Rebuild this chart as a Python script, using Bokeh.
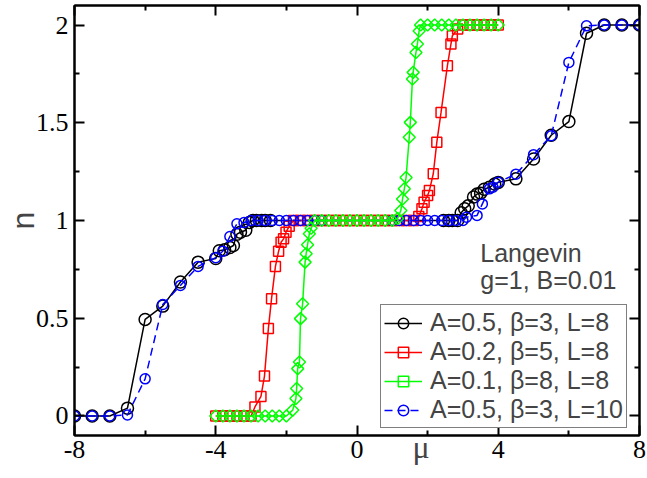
import math
from bokeh.plotting import figure
from bokeh.models import (Range1d, FixedTicker, LinearAxis, CustomJSTickFormatter,
                          Label, Legend, LegendItem)
from bokeh.embed import file_html
from bokeh.resources import INLINE

# ---------------- data ----------------
x_ticks = [-8, -4, 0, 4, 8]
x_minor = [-6, -2, 2, 6]
y_ticks = [0, 0.5, 1, 1.5, 2]
y_minor = [0.25, 0.75, 1.25, 1.75]

# A=0.5, beta=3, L=8 (black)
mu_a = [-8, -7.5, -7, -6.5, -6, -5.5, -5, -4.5, -4,
        -3.9, -3.75, -3.6, -3.5, -3.4, -3.3, -3.15, -3.05,
        -2.95, -2.85, -2.7, -2.6, -2.45,
        2.45, 2.6, 2.7, 2.85, 2.95,
        3.05, 3.15, 3.3, 3.4, 3.5, 3.6, 3.75, 3.9, 4,
        4.5, 5, 5.5, 6, 6.5, 7, 7.5, 8]
n_a = [0, 0, 0, 0.04, 0.494, 0.562, 0.685, 0.787, 0.806,
       0.845, 0.85, 0.862, 0.872, 0.93, 0.94, 0.95, 0.99,
       1.0, 1.0, 1.0, 1.0, 1.0,
       1.0, 1.0, 1.0, 1.0, 1.04,
       1.06, 1.075, 1.12, 1.135, 1.14, 1.16, 1.17, 1.187, 1.195,
       1.213, 1.315, 1.436, 1.506, 1.958, 2.0, 2.0, 2.0]

# A=0.2, beta=5, L=8 (red)
mu_b = [-4, -3.8, -3.6, -3.4, -3.2, -3.0,
        -2.89, -2.72, -2.62, -2.51, -2.42, -2.31, -2.22, -2.15, -2.08, -2.01, -1.92,
        -1.8, -1.6, -1.4, -1.2, -1.0, -0.8, -0.6, -0.4, -0.2, 0.0,
        0.2, 0.4, 0.6, 0.8, 1.0, 1.2, 1.4, 1.6,
        1.75, 1.84, 1.9, 2.0, 2.05, 2.16, 2.26, 2.38, 2.56, 2.66, 2.7, 2.85,
        3.0, 3.2, 3.4, 3.6, 3.8, 4.0]
n_b = [0, 0, 0, 0, 0, 0,
       0.046, 0.1, 0.204, 0.447, 0.6, 0.765, 0.843, 0.889, 0.906, 0.94, 0.97,
       1, 1, 1, 1, 1, 1, 1, 1, 1, 1,
       1, 1, 1, 1, 1, 1, 1, 1,
       1.02, 1.06, 1.094, 1.128, 1.153, 1.239, 1.4, 1.553, 1.792, 1.903, 1.945, 1.98,
       2, 2, 2, 2, 2, 2]

# A=0.1, beta=8, L=8 (green)
mu_c = [-4.0, -3.8, -3.6, -3.4, -3.2, -3.0, -2.8, -2.6, -2.4, -2.2, -2.0,
        -1.82, -1.73, -1.71, -1.68, -1.63, -1.6, -1.54, -1.47, -1.44, -1.4, -1.35, -1.3,
        -1.2, -1.0, -0.8, -0.6, -0.4, -0.2, 0.0, 0.2, 0.4, 0.6, 0.8, 1.0,
        1.15, 1.24, 1.29, 1.34, 1.39, 1.48, 1.51, 1.57, 1.59, 1.67, 1.71, 1.76,
        1.8, 2.0, 2.2, 2.4, 2.6, 2.8, 3.0, 3.2, 3.4, 3.6, 3.8, 4.0]
n_c = [0, 0, 0, 0, 0, 0, 0, 0, 0, 0, 0,
       0.03, 0.089, 0.14, 0.242, 0.276, 0.498, 0.574, 0.787, 0.83, 0.876, 0.932, 0.96,
       1, 1, 1, 1, 1, 1, 1, 1, 1, 1, 1, 1,
       1.01, 1.051, 1.11, 1.162, 1.22, 1.426, 1.502, 1.724, 1.758, 1.86, 1.903, 1.97,
       2, 2, 2, 2, 2, 2, 2, 2, 2, 2, 2, 2]

# A=0.5, beta=3, L=10 (blue)
mu_d = [-8, -7.5, -7, -6.5, -6, -5.5, -5, -4.5, -4,
        -3.8, -3.6, -3.4, -3.2,
        -3.0, -2.8, -2.6, -2.4, -2.2, -2.0, -1.8, -1.6, -1.4, -1.2, -1.0,
        1.0, 1.2, 1.4, 1.6, 1.8, 2.0, 2.2, 2.4, 2.6, 2.8, 3.0,
        3.1, 3.4, 3.55, 3.75, 3.85, 4.0,
        4.5, 5, 5.5, 6, 6.5, 7, 7.5, 8]
n_d = [0, 0, 0, 0.005, 0.19, 0.57, 0.668, 0.765, 0.81,
       0.843, 0.918, 0.983, 0.99,
       1, 1, 1, 1, 1, 1, 1, 1, 1, 1, 1,
       1, 1, 1, 1, 1, 1, 1, 1, 1, 1, 1,
       1.017, 1.026, 1.085, 1.162, 1.17, 1.196,
       1.237, 1.337, 1.434, 1.809, 1.996, 2, 2, 2]

labels = ["A=0.5, \u03b2=3, L=8", "A=0.2, \u03b2=5, L=8",
          "A=0.1, \u03b2=8, L=8", "A=0.5, \u03b2=3, L=10"]

# ---------------- figure ----------------
p = figure(width=647, height=478, output_backend="svg", toolbar_location=None,
           x_range=Range1d(-8, 8), y_range=Range1d(-0.1, 2.1),
           min_border_left=74, min_border_right=8, min_border_top=5,
           min_border_bottom=43)
p.grid.visible = False
p.outline_line_color = "black"
p.outline_line_width = 2
p.background_fill_color = "white"
p.border_fill_color = "white"

xticker = FixedTicker(ticks=x_ticks, minor_ticks=x_minor)
yticker = FixedTicker(ticks=y_ticks, minor_ticks=y_minor)

top = LinearAxis(ticker=xticker, formatter=CustomJSTickFormatter(code="return '';"))
p.add_layout(top, "above")
right = LinearAxis(ticker=yticker, formatter=CustomJSTickFormatter(code="return '';"))
p.add_layout(right, "right")

p.axis.axis_line_width = 2
p.axis.major_tick_line_width = 2
p.axis.minor_tick_line_width = 2
p.axis.major_tick_in = 10
p.axis.major_tick_out = 0
p.axis.minor_tick_in = 5
p.axis.minor_tick_out = 0

bx = p.below[0]
ly = p.left[0]
for ax in (bx, ly):
    ax.formatter = CustomJSTickFormatter(code="return tick.toString();")
    ax.major_label_text_font = "Liberation Serif"
    ax.major_label_text_font_size = "26px"
    ax.major_label_text_color = "black"
bx.ticker = xticker
ly.ticker = yticker
bx.major_label_standoff = 5
ly.major_label_standoff = 6

for ax in (top, right):
    ax.major_label_standoff = 0
    ax.major_label_text_font_size = "1px"

ly.axis_label = "n"
ly.axis_label_text_font = "Liberation Sans"
ly.axis_label_text_font_style = "normal"
ly.axis_label_text_font_size = "32px"
ly.axis_label_standoff = -8

bx.axis_label = "\u2003\u2003\u2003\u2003\u03bc"
bx.axis_label_text_font = "Liberation Serif"
bx.axis_label_text_font_style = "normal"
bx.axis_label_text_font_size = "32px"
bx.axis_label_standoff = -32

# ---------------- series ----------------
la = p.line(mu_a, n_a, line_color="black", line_width=1.5)
sa = p.scatter(mu_a, n_a, marker="circle", size=12, fill_alpha=0,
               line_color="black", line_width=1.5)

lb = p.line(mu_b, n_b, line_color="#ff0000", line_width=1.5)
sb = p.scatter(mu_b, n_b, marker="square", size=10, fill_alpha=0,
               line_color="#ff0000", line_width=1.5)

ld = p.line(mu_d, n_d, line_color="#0000ff", line_width=1.5, line_dash="8 5")
sd = p.scatter(mu_d, n_d, marker="circle", size=10, fill_alpha=0,
               line_color="#0000ff", line_width=1.5)

lc = p.line(mu_c, n_c, line_color="#00ff00", line_width=1.5)
sc = p.scatter(mu_c, n_c, marker="square", angle=math.pi / 4, size=8.5, fill_alpha=0,
               line_color="#00ff00", line_width=1.5)

legend = Legend(items=[LegendItem(label=labels[0], renderers=[la, sa]),
                       LegendItem(label=labels[1], renderers=[lb, sb]),
                       LegendItem(label=labels[2], renderers=[lc, sc]),
                       LegendItem(label=labels[3], renderers=[ld, sd])],
                location=(306, 7))
legend.label_text_font = "Liberation Sans"
legend.label_text_font_size = "25px"
legend.glyph_width = 38
legend.glyph_height = 26
legend.label_height = 26
legend.label_standoff = 8
legend.padding = 3
legend.spacing = -1
legend.margin = 0
legend.border_line_color = "black"
legend.border_line_width = 1.5
legend.background_fill_alpha = 1
p.add_layout(legend)

p.add_layout(Label(x=3.49, y=0.833, text="Langevin", text_font="Liberation Sans",
                   text_font_size="25px", text_baseline="alphabetic"))
p.add_layout(Label(x=3.49, y=0.697, text="g=1, B=0.01", text_font="Liberation Sans",
                   text_font_size="25px", text_baseline="alphabetic"))

open("out.html", "w").write(file_html(p, INLINE))
